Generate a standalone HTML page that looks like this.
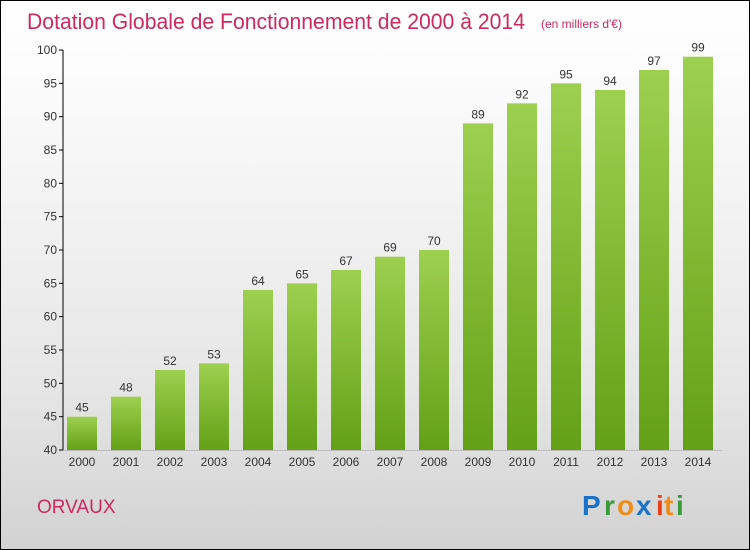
<!DOCTYPE html>
<html><head><meta charset="utf-8"><style>
html,body{margin:0;padding:0}
body{width:750px;height:550px;overflow:hidden}
#c{position:absolute;left:0;top:0;width:748px;height:548px;border:1px solid #000;background:linear-gradient(#ffffff,#fbfbfb 15%,#e6e6e6 70%,#d2d2d2)}
svg{position:absolute;left:0;top:0}
text{font-family:"Liberation Sans",sans-serif}
</style></head><body>
<div id="c"></div>
<svg id="s" width="750" height="550">
<defs><linearGradient id="g" x1="0" y1="0" x2="0" y2="1"><stop offset="0" stop-color="#9dd04f"/><stop offset="1" stop-color="#64a017"/></linearGradient></defs>
<text x="27" y="29" font-size="22" fill="#cc2a5e" textLength="498" lengthAdjust="spacingAndGlyphs">Dotation Globale de Fonctionnement de 2000 à 2014</text>
<text x="541" y="28" font-size="12" fill="#cc2a5e">(en milliers d'€)</text>
<text x="37" y="513" font-size="19" fill="#cc2a5e">ORVAUX</text>
<g font-size="28" font-weight="bold">
<text x="582" y="515" fill="#1a73c9">P</text><text x="604" y="515" fill="#3a9a3a">r</text><text x="617" y="515" fill="#f08c1a">o</text><text x="636" y="515" fill="#1a73c9">x</text><text x="656" y="515" fill="#e8401a">i</text><text x="664" y="515" fill="#f08c1a">t</text><text x="676" y="515" fill="#3a9a3a">i</text>
</g>
</svg>
<script>
const years=["2000","2001","2002","2003","2004","2005","2006","2007","2008","2009","2010","2011","2012","2013","2014"];
const values=[45,48,52,53,64,65,67,69,70,89,92,95,94,97,99];
const yTicks=[40,45,50,55,60,65,70,75,80,85,90,95,100];
const s=document.getElementById('s');
const NS='http://www.w3.org/2000/svg';
const y=v=>450-(v-40)*400/60;
const x=i=>82+i*44;
function mk(t,a,p){const e=document.createElementNS(NS,t);for(const k in a)e.setAttribute(k,a[k]);(p||s).appendChild(e);return e;}
const ax=mk('line',{x1:63,y1:50,x2:63,y2:450,stroke:'#000','stroke-width':1});


const bx=mk('line',{x1:63,y1:450.5,x2:722,y2:450.5,stroke:'#bbb','stroke-width':1});


yTicks.forEach(v=>{
 const l=mk('line',{x1:59,y1:y(v),x2:63,y2:y(v),stroke:'#000'});
 
 
 const t=mk('text',{x:57,y:y(v)+4,'font-size':12,fill:'#333','text-anchor':'end'});
 t.textContent=v;
 
 
});
values.forEach((v,i)=>{
 const r=mk('rect',{x:x(i)-15,y:y(v),width:30,height:450-y(v),fill:'url(#g)'});
 
 
 const t=mk('text',{x:x(i),y:y(v)-5,'font-size':12,fill:'#333','text-anchor':'middle'});
 t.textContent=v;
 
 
 const xl=mk('text',{x:x(i),y:466,'font-size':12,fill:'#333','text-anchor':'middle'});
 xl.textContent=years[i];
 
 
});
</script>
</body></html>
